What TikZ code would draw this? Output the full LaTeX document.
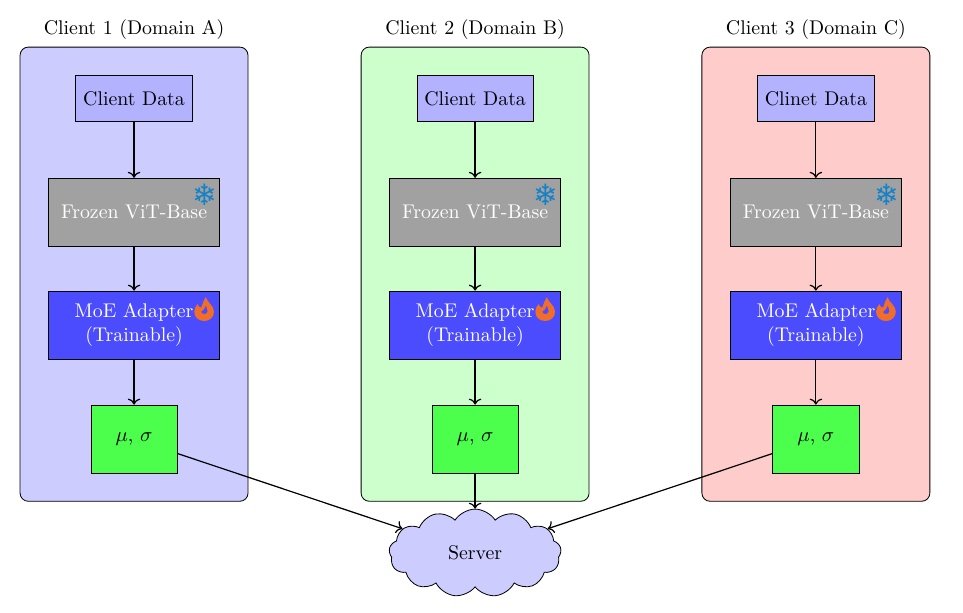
\documentclass[tikz,border=0pt]{standalone}
\usepackage{fontspec}
\usetikzlibrary{shapes.symbols,arrows.meta,positioning}
\newfontfamily\iconfont{DejaVu Sans}
\definecolor{cwIce}{RGB}{20,130,200}
\definecolor{cwFire}{RGB}{240,110,40}
\tikzset{
    every node/.style={font=\fontsize{9.7}{11.5}\selectfont},
    panel/.style={draw, rounded corners=4pt, minimum width=3.92cm, minimum height=7.81cm},
    databox/.style={draw, fill=blue!30, inner xsep=2pt, minimum width=2cm, minimum height=0.79cm},
    frozenbox/.style={draw, fill=black!37, text=white, minimum width=2.94cm, minimum height=1.17cm},
    adapterbox/.style={draw, fill=blue!70, text=white, align=center, minimum width=2.94cm, minimum height=1.17cm},
    statsbox/.style={draw, fill=green!70, minimum width=1.48cm, minimum height=1.17cm},
    snowicon/.style={text=cwIce, font=\iconfont\Large, inner sep=0pt},
    fireicon/.pic={
        \fill[cwFire, even odd rule] (0.03,0.21) .. controls (0.05,0.12) and (0.17,0.07) .. (0.17,-0.04)
            .. controls (0.17,-0.14) and (0.09,-0.20) .. (0,-0.20)
            .. controls (-0.10,-0.20) and (-0.17,-0.13) .. (-0.17,-0.04)
            .. controls (-0.17,0.02) and (-0.14,0.06) .. (-0.11,0.09)
            .. controls (-0.10,0.05) and (-0.08,0.03) .. (-0.05,0.03)
            .. controls (-0.03,0.09) and (-0.01,0.15) .. (0.03,0.21) -- cycle
            (0.03,0.07) .. controls (0.04,0.03) and (0.06,0.0) .. (0.06,-0.03)
            .. controls (0.06,-0.07) and (0.03,-0.08) .. (0,-0.08)
            .. controls (-0.03,-0.08) and (-0.05,-0.06) .. (-0.05,-0.04)
            .. controls (-0.02,-0.03) and (0.01,0.01) .. (0.03,0.07) -- cycle;
    },
    flow/.style={->, semithick}
}
\begin{document}
\begin{tikzpicture}
    \useasboundingbox (0,0) rectangle (16.56,10.53);

    % panels
    \node[panel, fill=blue!20] (panelA) at (2.305,5.815) {};
    \node[panel, fill=green!20] (panelB) at (8.17,5.815) {};
    \node[panel, fill=red!20] (panelC) at (14.03,5.815) {};
    \node (titleA) at (2.305,10.03) {Client 1 (Domain A)};
    \node (titleB) at (8.17,10.03) {Client 2 (Domain B)};
    \node (titleC) at (14.03,10.03) {Client 3 (Domain C)};

    % client 1
    \node[databox] (dataA) at (2.305,8.84) {Client Data};
    \node[frozenbox] (vitA) at (2.305,6.88) {Frozen ViT-Base};
    \node[adapterbox] (moeA) at (2.305,4.94) {MoE Adapter\\(Trainable)};
    \node[statsbox] (statsA) at (2.305,2.98) {$\mu$, $\sigma$};
    \node[snowicon] (snowA) at (3.52,7.18) {❄};
    \pic at (3.51,5.21) {fireicon};

    % client 2
    \node[databox] (dataB) at (8.17,8.84) {Client Data};
    \node[frozenbox] (vitB) at (8.17,6.88) {Frozen ViT-Base};
    \node[adapterbox] (moeB) at (8.17,4.94) {MoE Adapter\\(Trainable)};
    \node[statsbox] (statsB) at (8.17,2.98) {$\mu$, $\sigma$};
    \node[snowicon] (snowB) at (9.385,7.18) {❄};
    \pic at (9.375,5.21) {fireicon};

    % client 3
    \node[databox] (dataC) at (14.03,8.84) {Clinet Data};
    \node[frozenbox] (vitC) at (14.03,6.88) {Frozen ViT-Base};
    \node[adapterbox] (moeC) at (14.03,4.94) {MoE Adapter\\(Trainable)};
    \node[statsbox] (statsC) at (14.03,2.98) {$\mu$, $\sigma$};
    \node[snowicon] (snowC) at (15.245,7.18) {❄};
    \pic at (15.235,5.21) {fireicon};

    \node[draw, cloud, cloud puffs=13, cloud puff arc=115, aspect=2, fill=blue!20, minimum width=2.96cm, minimum height=1.51cm, inner sep=0pt] (server) at (8.17,1.02) {Server};

    % arrows
    \draw[flow] (dataA) -- (vitA);
    \draw[flow] (vitA) -- (moeA);
    \draw[flow] (moeA) -- (statsA);
    \draw[flow] (dataB) -- (vitB);
    \draw[flow] (vitB) -- (moeB);
    \draw[flow] (moeB) -- (statsB);
    \draw[flow] (dataC) -- (vitC);
    \draw[flow] (vitC) -- (moeC);
    \draw[flow] (moeC) -- (statsC);
    \draw[flow] (statsA) -- (server);
    \draw[flow] (statsB) -- (server);
    \draw[flow] (statsC) -- (server);
\end{tikzpicture}
\end{document}
